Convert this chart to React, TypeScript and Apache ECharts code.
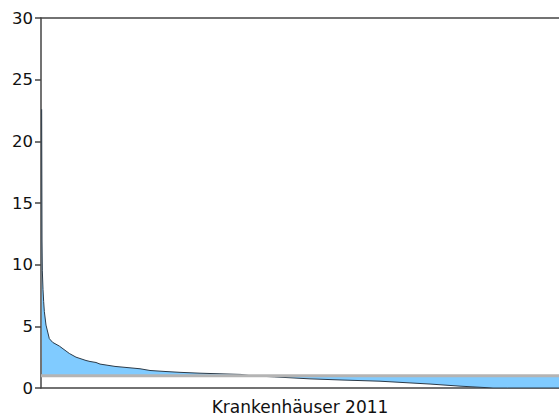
import React, { useEffect, useRef } from "react";
import * as echarts from "echarts";

// Hospital rank (sorted descending) and value
const ranks = [2, 3, 4, 6, 8, 10, 15, 25, 35, 55, 85, 105, 135, 147, 165, 177, 222, 297, 327, 372, 417, 477, 600, 627, 700, 807, 900, 1017, 1167, 1257, 1356, 1400, 1554];
const values = [22.6, 12, 9.5, 8.0, 7.0, 6.2, 5.1, 4.0, 3.7, 3.4, 2.8, 2.5, 2.23, 2.15, 2.07, 1.94, 1.75, 1.56, 1.42, 1.34, 1.27, 1.2, 1.1, 1.0, 0.9, 0.74, 0.65, 0.55, 0.32, 0.15, 0.0, 0.0, 0.0];
const refValue = 1;
const yTicks = [0, 5, 10, 15, 20, 25, 30];
const xLabel = "Krankenhäuser 2011";

export default function App() {
  const ref = useRef<HTMLDivElement>(null);
  useEffect(() => {
    if (!ref.current) return;
    const chart = echarts.init(ref.current, null, { renderer: "svg" });
    const font = "Verdana, 'DejaVu Sans', sans-serif";
    const xMax = ranks[ranks.length - 1];
    chart.setOption({
      animation: false,
      grid: { left: 41, right: 0, top: 18, bottom: 30 },
      xAxis: [
        {
          type: "value",
          min: 0,
          max: xMax,
          name: xLabel,
          nameLocation: "middle",
          nameGap: 10,
          nameTextStyle: { fontFamily: font, fontSize: 17, color: "#111" },
          axisLine: { show: true, lineStyle: { color: "#444", width: 1.5 } },
          axisTick: { show: false },
          axisLabel: { show: false },
          splitLine: { show: false },
        },
        {
          type: "value",
          position: "top",
          min: 0,
          max: xMax,
          axisLine: { show: true, lineStyle: { color: "#444", width: 1.5 } },
          axisTick: { show: false },
          axisLabel: { show: false },
          splitLine: { show: false },
        },
      ],
      yAxis: {
        type: "value",
        min: yTicks[0],
        max: yTicks[yTicks.length - 1],
        interval: 5,
        axisLine: { show: true, lineStyle: { color: "#444", width: 1.5 } },
        axisTick: { show: true, length: 6, lineStyle: { color: "#444", width: 1.5 } },
        axisLabel: { fontFamily: font, fontSize: 16.5, color: "#111", margin: 8 },
        splitLine: { show: false },
      },
      series: [
        {
          type: "line",
          data: ranks.map((r, i) => [r, values[i]]),
          symbol: "none",
          lineStyle: { color: "#2b3a48", width: 1 },
          areaStyle: { color: "#80CBFF", opacity: 1, origin: refValue },
          z: 2,
        },
        {
          type: "line",
          data: [
            [0, refValue],
            [xMax, refValue],
          ],
          symbol: "none",
          lineStyle: { color: "#b4b4b4", width: 3 },
          z: 3,
        },
      ],
    });
    return () => chart.dispose();
  }, []);
  return (
    <div
      ref={ref}
      style={{ position: "fixed", left: 0, top: 0, width: 559, height: 420, background: "#fff" }}
    />
  );
}
